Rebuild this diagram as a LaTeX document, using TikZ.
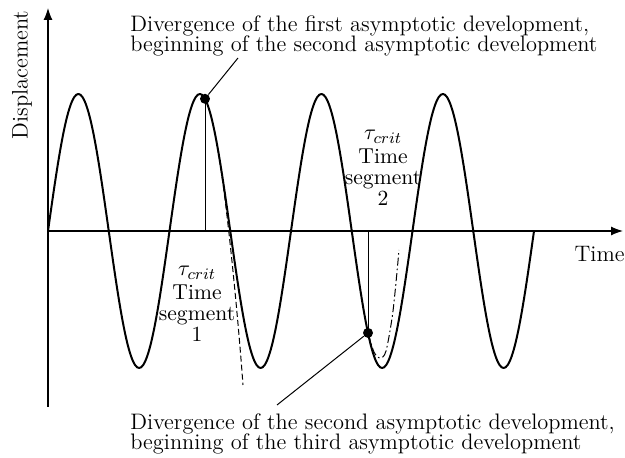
\documentclass[tikz,border=0pt]{standalone}
\usetikzlibrary{arrows.meta,positioning,calc}

\begin{document}
\begin{tikzpicture}[x=0.5pt,y=0.5pt,
    txt/.style={font=\fontsize{11.2}{10.4}\selectfont,inner sep=0pt},
    segtxt/.style={font=\fontsize{10.8}{10.6}\selectfont,inner sep=0pt,align=center},
    axis/.style={line width=0.6pt,-{Latex[length=6pt,width=4.5pt]}},
    wave/.style={line width=1pt,line join=round},
    dot/.style={circle,fill,inner sep=0pt,minimum size=5pt}]
  \useasboundingbox (-48,-227) rectangle (577,231);
  % axes
  \coordinate (O) at (0,0);
  \coordinate (ybot) at (0,-176);
  \coordinate (ytop) at (0,223);
  \coordinate (xtip) at (575,0);
  \draw[axis] (ybot) -- (ytop);
  \draw[axis] (O) -- (xtip);
  \node[txt,rotate=90] (ylab) at (-26,156) {Displacement};
  \node[txt,anchor=north east] (xlab) at (577,-15) {Time};
  % response
  \draw[wave] plot[domain=0:486,samples=241,smooth] (\x,{137*sin(2.96296*\x)});
  % asymptotic developments
  \draw[line width=0.5pt,dash pattern=on 3pt off 1.5pt]
    (170,81) .. controls (177,41) and (188,-60) .. (195,-154);
  \draw[line width=0.5pt,dash pattern=on 4pt off 1.5pt on 0.8pt off 1.5pt]
    plot[smooth] coordinates {(320,-102) (326,-121) (332,-127) (338,-120) (345,-80) (351,-19)};
  % divergence points
  \node[dot] (d1) at (157,132.2) {};
  \node[dot] (d2) at (320,-101.9) {};
  \draw[line width=0.4pt] (d1.center) -- (d1.center |- O);
  \draw[line width=0.4pt] (d2.center) -- (d2.center |- O);
  \node[txt,anchor=north west,align=left] (top) at (82,216)
    {Divergence of the first asymptotic development,\\beginning of the second asymptotic development};
  \node[txt,anchor=north west,align=left] (bot) at (82,-182)
    {Divergence of the second asymptotic development,\\beginning of the third asymptotic development};
  \coordinate (lead1) at (190,173);
  \coordinate (lead2) at (229,-174);
  \draw[line width=0.5pt] (d1) -- (lead1);
  \draw[line width=0.5pt] (d2) -- (lead2);
  % time segments
  \node[segtxt] (seg1) at (149,-73) {$\tau_{crit}$\\[1pt]Time\\segment\\1};
  \node[segtxt] (seg2) at (335,63) {$\tau_{crit}$\\[1pt]Time\\segment\\2};
\end{tikzpicture}
\end{document}
